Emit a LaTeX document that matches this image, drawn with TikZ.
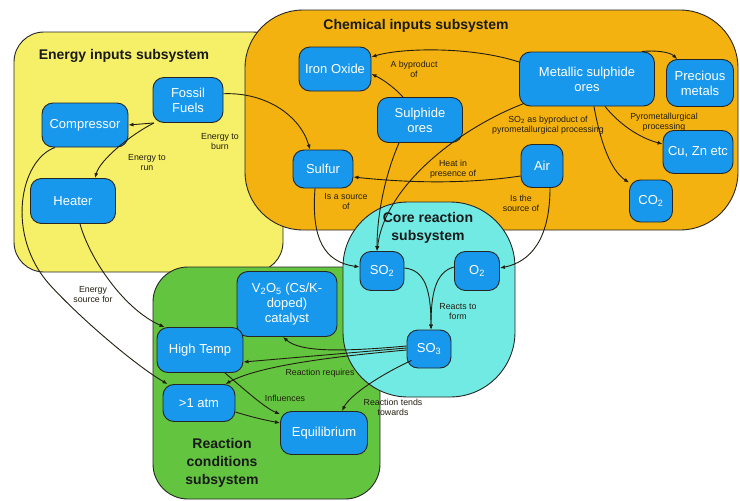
\documentclass[tikz,border=0pt]{standalone}
\usepackage{fontspec}
\setmainfont{Liberation Sans}
\usetikzlibrary{arrows.meta,calc}
\definecolor{yel}{RGB}{246,240,104}
\definecolor{ora}{RGB}{243,178,16}
\definecolor{gre}{RGB}{99,196,64}
\definecolor{cya}{RGB}{114,234,228}
\definecolor{nodeblue}{RGB}{24,152,236}
\definecolor{ink}{RGB}{35,30,15}
\tikzset{
  box/.style={draw=black!85, line width=0.9pt, fill=nodeblue, rounded corners=11pt, text=white,
    font=\fontsize{13}{15}\selectfont, align=center, inner sep=1pt},
  lbl/.style={font=\fontsize{8.8}{10}\selectfont, text=ink, align=center, inner sep=0pt},
  ttl/.style={font=\bfseries\fontsize{14}{18}\selectfont, text=black!90, align=center, inner sep=0pt},
  region/.style={draw=black!85, line width=0.9pt},
  conn/.style={draw=ink, line width=0.9pt, -{Latex[length=5pt,width=4pt]}},
}
\begin{document}
\begin{tikzpicture}[x=1pt,y=-1pt]
\fill[white] (0,0) rectangle (740,501);
\useasboundingbox (0,0) rectangle (740,501);
% regions
\draw[region, fill=yel, rounded corners=30pt] (14,32) rectangle (283,272);
\draw[region, fill=ora, rounded corners=58pt] (245,10) rectangle (738,230);
\draw[region, fill=gre, rounded corners=35pt] (153,267) rectangle (380,499);
\draw[region, fill=cya, rounded corners=65pt] (343,202) rectangle (515,397);
% titles
\node[ttl] (t1) at (124,56) {Energy inputs subsystem};
\node[ttl] (t2) at (416,26) {Chemical inputs subsystem};
\node[ttl] (t3) at (428,228) {Core reaction\\subsystem};
\node[ttl] (t4) at (222,463) {Reaction\\conditions\\subsystem};
% nodes
\node[box, minimum width=70, minimum height=45] (ff) at (188,100) {Fossil\\Fuels};
\node[box, minimum width=86, minimum height=44] (comp) at (85,125) {Compressor};
\node[box, minimum width=85, minimum height=45] (heat) at (73,201) {Heater};
\node[box, minimum width=72, minimum height=44] (iron) at (335,69) {Iron Oxide};
\node[box, minimum width=85, minimum height=45] (sulph) at (420,120) {Sulphide\\ores};
\node[box, minimum width=60, minimum height=38] (sulf) at (323,169) {Sulfur};
\node[box, minimum width=135, minimum height=54] (met) at (587,79) {Metallic sulphide\\ores};
\node[box, minimum width=67, minimum height=47] (prec) at (700,83) {Precious\\metals};
\node[box, minimum width=70, minimum height=43] (cuzn) at (698,152) {Cu, Zn etc};
\node[box, minimum width=42, minimum height=43] (air) at (542,166) {Air};
\node[box, minimum width=43, minimum height=42] (co2) at (651,201) {CO\textsubscript{2}};
\node[box, minimum width=44, minimum height=39] (so2) at (382,271) {SO\textsubscript{2}};
\node[box, minimum width=45, minimum height=39] (o2) at (477,271) {O\textsubscript{2}};
\node[box, minimum width=44, minimum height=38] (so3) at (429,349) {SO\textsubscript{3}};
\node[box, minimum width=100, minimum height=65] (v2o5) at (287,304) {V\textsubscript{2}O\textsubscript{5} (Cs/K-\\doped)\\catalyst};
\node[box, minimum width=86, minimum height=45] (ht) at (200,350) {High Temp};
\node[box, minimum width=72, minimum height=37] (atm) at (199,403) {>1 atm};
\node[box, minimum width=87, minimum height=43] (eq) at (324,433) {Equilibrium};
% connectors
\draw[conn] (ff.214) -- (comp.east);
\draw[conn] (ff.214) .. controls (130,135) and (100,160) .. ($(heat.north)+(22,0)$);
\draw[conn] (ff.10) .. controls (265,92) and (300,115) .. ($(sulf.north)+(-13,0)$);
\draw[conn] ($(comp.south)+(-30,0)$) .. controls (20,160) and (5,235) .. (50,285)
   .. controls (80,318) and (135,365) .. ($(atm.north west)+(5,0)$);
\draw[conn] ($(heat.south)+(7,0)$) .. controls (90,260) and (125,310) .. ($(ht.north west)+(8,0)$);
\draw[conn] ($(sulf.south)+(-8,0)$) .. controls (311,240) and (325,262) .. ($(so2.west)+(0,-4)$);
\draw[conn] ($(sulph.south)+(-21,0)$) .. controls (385,175) and (377,215) .. ($(so2.north)+(-5,0)$);
\draw[conn] ($(sulph.north)+(-17,0)$) .. controls (392,85) and (380,78) .. ($(iron.east)+(0,5)$);
\draw[conn] ($(met.west)+(0,-17)$) .. controls (470,46) and (400,48) .. ($(iron.east)+(0,-12)$);
\draw[conn] ($(met.south west)+(5,-3)$) .. controls (460,128) and (385,185) .. ($(so2.north)+(-5,0)$);
\draw[conn] ($(met.north east)+(-13,0)$) .. controls (655,50) and (670,52) .. ($(prec.north west)+(11,0)$);
\draw[conn] ($(met.south)+(18,0)$) .. controls (620,125) and (640,138) .. ($(cuzn.west)+(0,-8)$);
\draw[conn] ($(met.south)+(7,0)$) .. controls (600,140) and (610,170) .. ($(co2.north west)+(0,3)$);
\draw[conn] ($(air.west)+(0,10)$) .. controls (460,185) and (400,182) .. ($(sulf.east)+(0,8)$);
\draw[conn] ($(air.south)+(8,0)$) .. controls (550,240) and (530,262) .. ($(o2.east)+(0,-3)$);
\draw[conn] ($(so2.east)+(0,-3)$) .. controls (425,270) and (431,290) .. ($(so3.north)+(2,0)$);
\draw[conn] ($(o2.west)+(0,-4)$) .. controls (435,272) and (431,295) .. ($(so3.north)+(2,0)$);
\draw[conn] ($(so3.west)+(0,-3)$) .. controls (340,352) and (300,352) .. ($(v2o5.south)+(-4,0)$);
\draw[conn] ($(so3.west)+(0,-1)$) -- ($(ht.east)+(0,12)$);
\draw[conn] ($(so3.west)+(0,1)$) .. controls (340,356) and (260,365) .. ($(atm.north east)+(-10,0)$);
\draw[conn] ($(ht.south)+(25,0)$) .. controls (245,390) and (265,408) .. ($(eq.north west)+(0,3)$);
\draw[conn] ($(atm.east)+(0,9)$) .. controls (255,418) and (265,420) .. ($(eq.west)+(0,-10)$);
\draw[conn] ($(so3.south west)+(5,-8)$) .. controls (380,375) and (350,395) .. ($(eq.north)+(18,0)$);
% labels
\node[lbl] (l1) at (147,163) {Energy to\\run};
\node[lbl] (l2) at (220,142) {Energy to\\burn};
\node[lbl] (l3) at (93,295) {Energy\\source for};
\node[lbl] (l4) at (346,202) {Is a source\\of};
\node[lbl] (l5) at (414,69) {A byproduct\\of};
\node[lbl] (l6) at (548,125) {SO\textsubscript{2} as byproduct of\\pyrometallurgical processing};
\node[lbl] (l7) at (664,122) {Pyrometallurgical\\processing};
\node[lbl] (l8) at (453,169) {Heat in\\presence of};
\node[lbl] (l9) at (521,203) {Is the\\source of};
\node[lbl] (l10) at (458,312) {Reacts to\\form};
\node[lbl] (l11) at (320,373) {Reaction requires};
\node[lbl] (l12) at (285,398) {Influences};
\node[lbl] (l13) at (393,407) {Reaction tends\\towards};
\end{tikzpicture}
\end{document}
